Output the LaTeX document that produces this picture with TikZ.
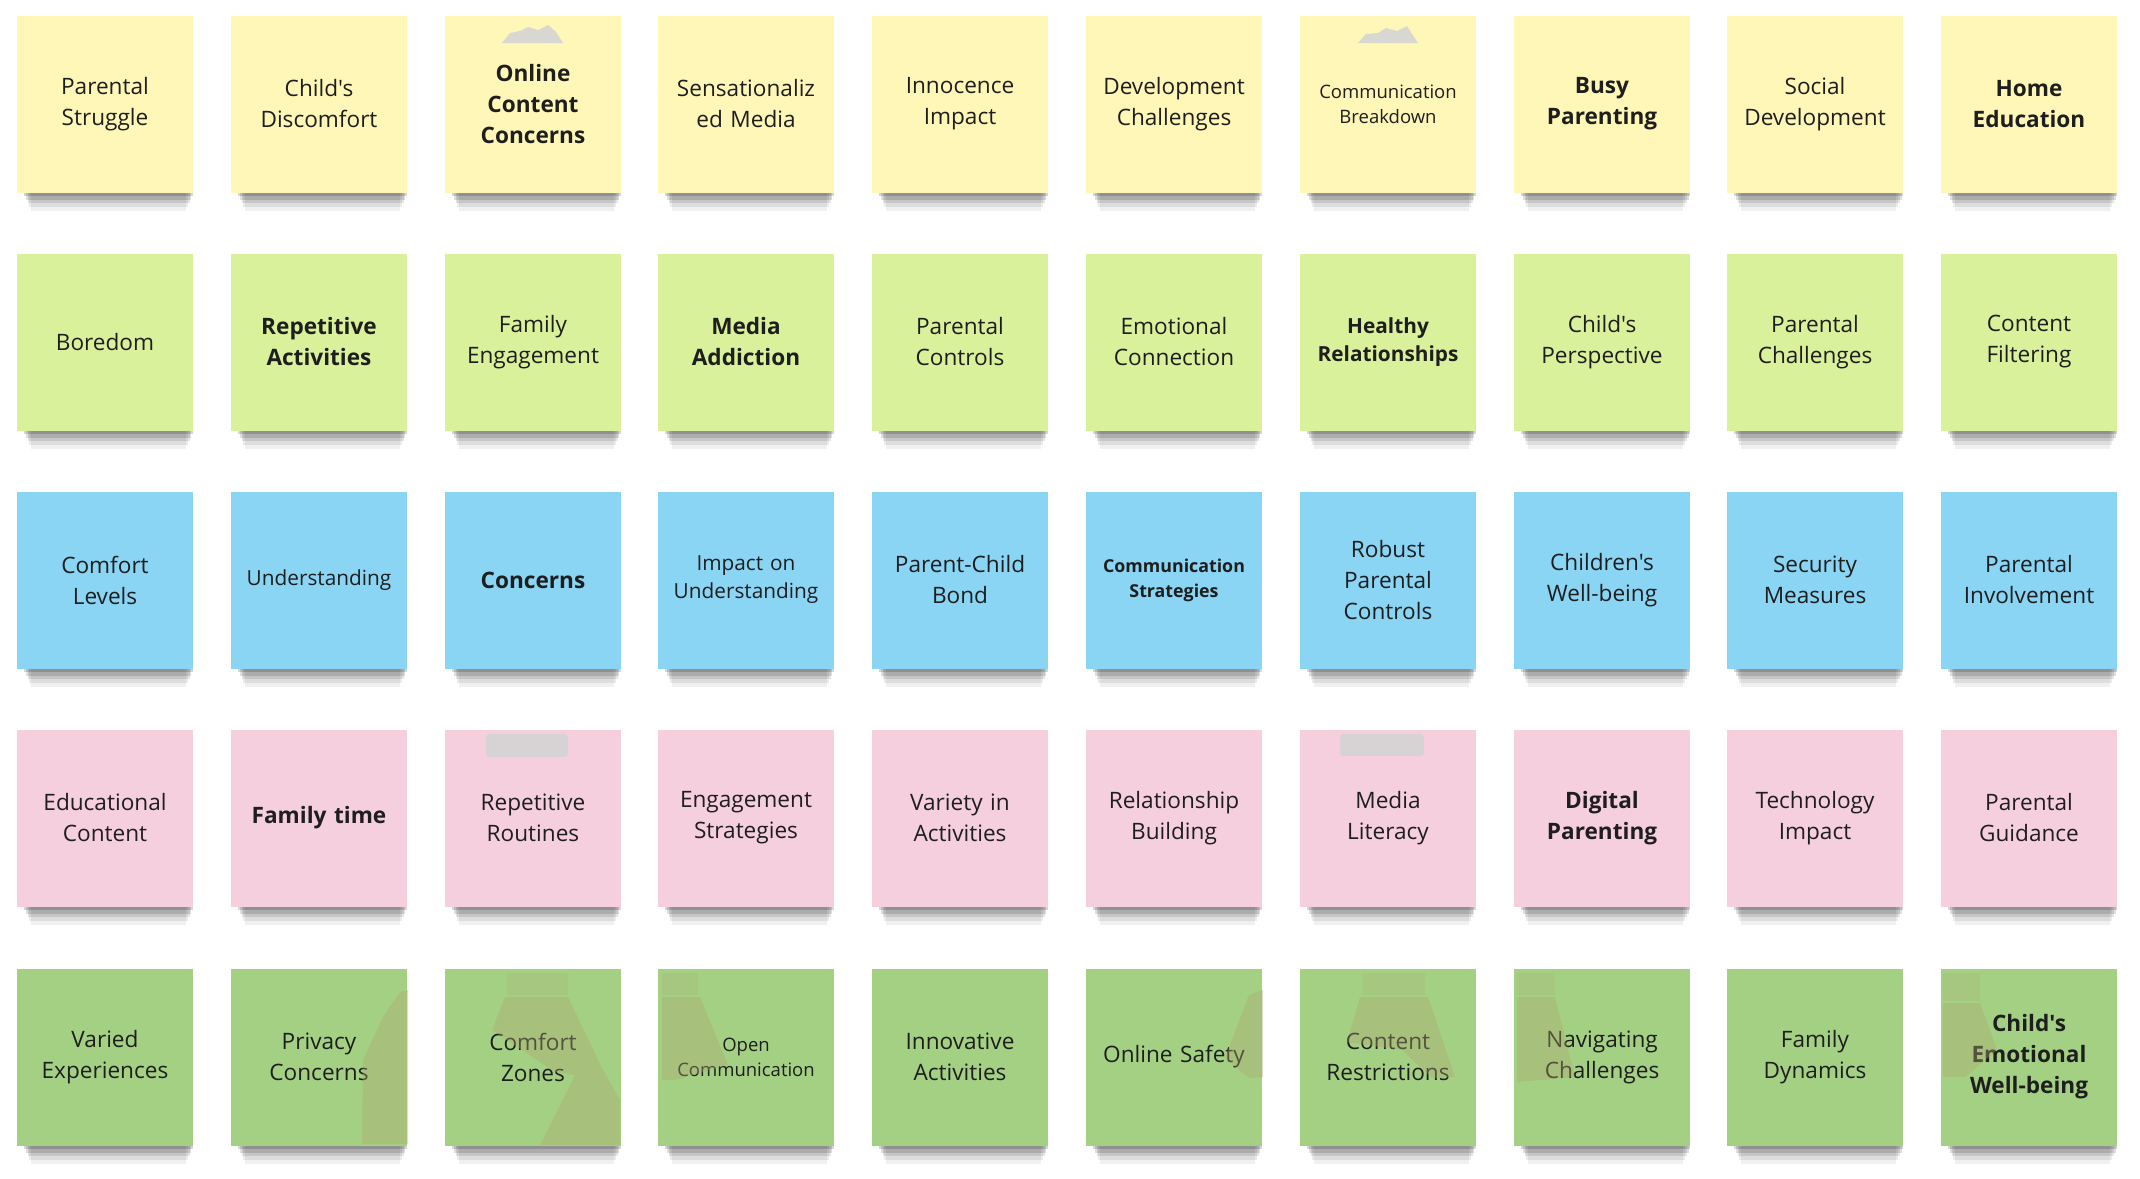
\documentclass[tikz,border=0pt]{standalone}
\usepackage{fontspec}
\setmainfont{Open Sans}[Ligatures=TeXOff]
\usetikzlibrary{shadows}
\definecolor{noteyellow}{RGB}{255,247,184}
\definecolor{notelime}{RGB}{218,241,156}
\definecolor{noteblue}{RGB}{138,212,244}
\definecolor{notepink}{RGB}{246,207,222}
\definecolor{notegreen}{RGB}{164,208,131}
\definecolor{notetext}{RGB}{30,30,30}
\definecolor{tapegray}{RGB}{212,212,212}
\definecolor{tapeshade}{RGB}{172,166,112}

\begin{document}
\begin{tikzpicture}[x=1pt,y=-1pt,
  note/.style={minimum width=176pt,minimum height=177pt,inner sep=0pt,text width=164pt,align=center,
    text=notetext,font=\fontsize{22.6}{31}\selectfont,
    general shadow={fill=black,opacity=.06,shadow xshift=4pt,shadow yshift=-32.6pt,shadow scale=.88},
    general shadow={fill=black,opacity=.08,shadow xshift=4pt,shadow yshift=-25.9pt,shadow scale=.90},
    general shadow={fill=black,opacity=.10,shadow xshift=4pt,shadow yshift=-19.1pt,shadow scale=.92},
    general shadow={fill=black,opacity=.13,shadow xshift=4pt,shadow yshift=-13.3pt,shadow scale=.94},
    general shadow={fill=black,opacity=.16,shadow xshift=4pt,shadow yshift=-7.5pt,shadow scale=.96}},
  ynote/.style={note,fill=noteyellow},
  lnote/.style={note,fill=notelime},
  bnote/.style={note,fill=noteblue},
  pnote/.style={note,fill=notepink},
  gnote/.style={note,fill=notegreen},
  small/.style={font=\fontsize{18.5}{25}\selectfont},
  mid/.style={font=\fontsize{20.8}{28}\selectfont},
  tape/.style={fill=tapegray,opacity=.9},
  shade/.style={fill=tapeshade,opacity=.38}]
\useasboundingbox (0,0) rectangle (2140,1178);

% row 1
\node[ynote] (struggle) at (105,104) {Parental\\Struggle};
\node[ynote] (discomfort) at (319,104) {Child's\\Discomfort};
\node[ynote] (online) at (533,104) {\bfseries Online\\Content\\Concerns};
\node[ynote] (sensational) at (746,104) {Sensationaliz\\ed Media};
\node[ynote] (innocence) at (960,104) {Innocence\\Impact};
\node[ynote] (development) at (1174,104) {Development\\Challenges};
\node[ynote,small] (breakdown) at (1388,104) {Communication\\Breakdown};
\node[ynote] (busy) at (1602,104) {\bfseries Busy\\Parenting};
\node[ynote] (social) at (1815,104) {Social\\Development};
\node[ynote] (homeedu) at (2029,104) {\bfseries Home\\Education};

% row 2
\node[lnote] (boredom) at (105,342) {Boredom};
\node[lnote] (repetitive) at (319,342) {\bfseries Repetitive\\Activities};
\node[lnote] (engagement) at (533,342) {Family\\Engagement};
\node[lnote] (addiction) at (746,342) {\bfseries Media\\Addiction};
\node[lnote] (controls) at (960,342) {Parental\\Controls};
\node[lnote] (emotional) at (1174,342) {Emotional\\Connection};
\node[lnote,mid] (healthy) at (1388,342) {\bfseries Healthy\\Relationships};
\node[lnote] (perspective) at (1602,342) {Child's\\Perspective};
\node[lnote] (challenges) at (1815,342) {Parental\\Challenges};
\node[lnote] (filtering) at (2029,342) {Content\\Filtering};

% row 3
\node[bnote] (comfort) at (105,580) {Comfort\\Levels};
\node[bnote,mid] (understanding) at (319,580) {Understanding};
\node[bnote] (concerns) at (533,580) {\bfseries Concerns};
\node[bnote,mid] (impact) at (746,580) {Impact on\\Understanding};
\node[bnote] (bond) at (960,580) {Parent-Child\\Bond};
\node[bnote,font=\fontsize{17.8}{25}\selectfont] (strategies) at (1174,580) {\bfseries Communication\\Strategies};
\node[bnote] (robust) at (1388,580) {Robust\\Parental\\Controls};
\node[bnote] (wellbeing) at (1602,580) {Children's\\Well-being};
\node[bnote] (security) at (1815,580) {Security\\Measures};
\node[bnote] (involvement) at (2029,580) {Parental\\Involvement};

% row 4
\node[pnote] (educational) at (105,818) {Educational\\Content};
\node[pnote] (familytime) at (319,818) {\bfseries Family time};
\node[pnote] (routines) at (533,818) {Repetitive\\Routines};
\node[pnote] (engstrat) at (746,818) {Engagement\\Strategies};
\node[pnote] (variety) at (960,818) {Variety in\\Activities};
\node[pnote] (relationship) at (1174,818) {Relationship\\Building};
\node[pnote] (literacy) at (1388,818) {Media\\Literacy};
\node[pnote] (digital) at (1602,818) {\bfseries Digital\\Parenting};
\node[pnote] (techimpact) at (1815,818) {Technology\\Impact};
\node[pnote] (guidance) at (2029,818) {Parental\\Guidance};

% row 5
\node[gnote] (varied) at (105,1057) {Varied\\Experiences};
\node[gnote] (privacy) at (319,1057) {Privacy\\Concerns};
\node[gnote] (zones) at (533,1057) {Comfort\\Zones};
\node[gnote,small] (opencomm) at (746,1057) {Open\\Communication};
\node[gnote] (innovative) at (960,1057) {Innovative\\Activities};
\node[gnote] (safety) at (1174,1057) {Online Safety};
\node[gnote] (restrictions) at (1388,1057) {Content\\Restrictions};
\node[gnote] (navigating) at (1602,1057) {Navigating\\Challenges};
\node[gnote] (dynamics) at (1815,1057) {Family\\Dynamics};
\node[gnote] (childwell) at (2029,1057) {\bfseries Child's\\Emotional\\Well-being};

% tape marks
\fill[tape] (502,43) -- (510,33) -- (520,31) -- (528,27) -- (538,30) -- (548,25) -- (556,32) -- (563,43) -- cycle;
\fill[tape] (1358,43) -- (1366,34) -- (1378,33) -- (1386,28) -- (1397,31) -- (1407,26) -- (1412,34) -- (1418,43) -- cycle;
\fill[tape,rounded corners=3pt] (486,734) rectangle (568,757);
\fill[tape,rounded corners=3pt] (1340,734) rectangle (1424,756);

% tape shadows on the green notes
\fill[shade] (400,992) -- (408,990) -- (408,1144) -- (362,1144) -- (363,1060) -- (383,1017) -- cycle;
\fill[shade,opacity=.2] (507,973) rectangle (568,995);
\fill[shade] (505,997) -- (568,997) -- (602,1068) -- (620,1100) -- (620,1145) -- (540,1145) -- (575,1075) -- (555,1072) -- (492,1030) -- cycle;
\fill[shade,opacity=.2] (662,973) rectangle (698,995);
\fill[shade] (662,997) -- (700,997) -- (728,1065) -- (675,1080) -- (662,1080) -- cycle;
\fill[shade] (1249,995) -- (1263,990) -- (1263,1077) -- (1249,1078) -- (1225,1058) -- cycle;
\fill[shade,opacity=.2] (1363,973) rectangle (1425,995);
\fill[shade] (1360,997) -- (1428,997) -- (1455,1077) -- (1432,1078) -- (1402,1050) -- (1347,1042) -- cycle;
\fill[shade,opacity=.2] (1517,973) rectangle (1555,995);
\fill[shade] (1517,997) -- (1555,997) -- (1575,1077) -- (1517,1082) -- cycle;
\fill[shade,opacity=.2] (1943,973) rectangle (1980,1001);
\fill[shade] (1943,1003) -- (1980,1003) -- (1997,1050) -- (1965,1077) -- (1943,1077) -- cycle;
\end{tikzpicture}
\end{document}
